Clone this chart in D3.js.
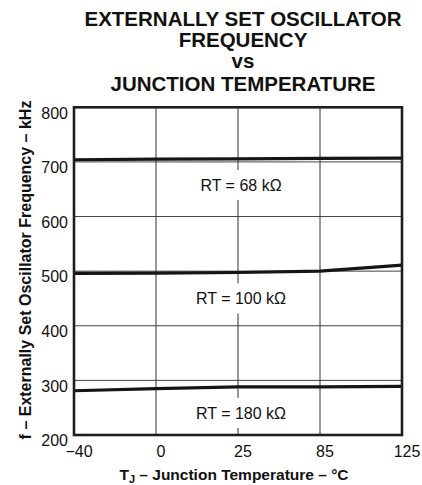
<!DOCTYPE html>
<html>
<head>
<meta charset="utf-8">
<script src="https://cdn.jsdelivr.net/npm/d3@7"></script>
<style>
  body { margin: 0; background: #fff; }
  text { font-family: "Liberation Sans", Arial, Helvetica, sans-serif; fill: #111; }
</style>
</head>
<body>
<div id="chart"></div>
<script>
// data
const temps = ["-40", "0", "25", "85", "125"];
const tempLabels = ["\u221240", "0", "25", "85", "125"];
const freqTicks = [200, 300, 400, 500, 600, 700, 800];
const rt68 = [704, 705, 705.5, 706.5, 707];
const rt100 = [496, 496.5, 497.5, 500, 511];
const rt180 = [281, 285, 288, 288, 289];
const seriesNames = ["RT = 68 k\u03A9", "RT = 100 k\u03A9", "RT = 180 k\u03A9"];
const titleLines = ["EXTERNALLY SET OSCILLATOR", "FREQUENCY", "vs", "JUNCTION TEMPERATURE"];

const width = 422;
const height = 485;
const plotLeft = 74, plotRight = 402, plotTop = 107.3, plotBottom = 435;

const svg = d3.select("#chart")
    .append("svg")
    .attr("width", width)
    .attr("height", height)
    .style("display", "block");

svg.append("rect").attr("width", width).attr("height", height).attr("fill", "#fff");

let x = d3.scalePoint().domain(temps).range([plotLeft, plotRight]);
let y = d3.scaleLinear().domain([200, 800]).range([plotBottom, plotTop]);

// title
const titleY = [25.5, 47, 68, 90.5];
svg.append("g")
    .selectAll("text")
    .data(titleLines)
    .join("text")
        .attr("x", 243)
        .attr("y", (d, i) => titleY[i])
        .attr("text-anchor", "middle")
        .style("font-size", "20.5px")
        .style("font-weight", "bold")
        .text(d => d);

// grid
const grid = svg.append("g");
grid.selectAll(".hgrid")
    .data(freqTicks.slice(1, -1))
    .join("line")
        .attr("class", "hgrid")
        .attr("x1", plotLeft).attr("x2", plotRight)
        .attr("y1", d => y(d)).attr("y2", d => y(d))
        .attr("stroke", "#444")
        .attr("stroke-width", 1);

grid.selectAll(".vgrid")
    .data(temps.slice(1, -1))
    .join("line")
        .attr("class", "vgrid")
        .attr("x1", d => x(d)).attr("x2", d => x(d))
        .attr("y1", plotTop).attr("y2", plotBottom)
        .attr("stroke", "#333")
        .attr("stroke-width", 1);

// curves
const series = [rt68, rt100, rt180];
let lineFunction = d3.line()
    .x((d, i) => x(temps[i]))
    .y(d => y(d));

svg.append("g")
    .selectAll("path")
    .data(series)
    .join("path")
        .attr("d", lineFunction)
        .attr("fill", "none")
        .attr("stroke", "#151515")
        .attr("stroke-width", 3.2)
        .attr("stroke-linejoin", "round");

// curve labels, with white box that breaks the 25 gridline
const labels = svg.append("g");
series.forEach((s, i) => {
    const cy = y(s[2]) + 26;
    labels.append("rect")
        .attr("x", x("25") - 6)
        .attr("y", cy - 15)
        .attr("width", 12)
        .attr("height", 30)
        .attr("fill", "#fff");
    labels.append("text")
        .attr("x", x("25") + 3)
        .attr("y", cy + 5.8)
        .attr("text-anchor", "middle")
        .style("font-size", "16px")
        .text(seriesNames[i]);
});

// frame
svg.append("rect")
    .attr("x", plotLeft).attr("y", plotTop)
    .attr("width", plotRight - plotLeft).attr("height", plotBottom - plotTop)
    .attr("fill", "none")
    .attr("stroke", "#1e1e1e")
    .attr("stroke-width", 2.6);

// y tick labels
svg.append("g")
    .selectAll("text")
    .data(freqTicks)
    .join("text")
        .attr("x", 68)
        .attr("y", d => y(d) + 11.2)
        .attr("text-anchor", "end")
        .style("font-size", "16px")
        .text(d => d);

// x tick labels
svg.append("g")
    .selectAll("text")
    .data(temps)
    .join("text")
        .attr("x", d => x(d) + 5)
        .attr("y", 457)
        .attr("text-anchor", "middle")
        .style("font-size", "16px")
        .text((d, i) => tempLabels[i]);

// axis titles
const xt = svg.append("text")
    .attr("x", 234)
    .attr("y", 480)
    .attr("text-anchor", "middle")
    .style("font-size", "15.5px")
    .style("font-weight", "bold");
xt.append("tspan").text("T");
xt.append("tspan").attr("dy", 3).style("font-size", "11px").text("J");
xt.append("tspan").attr("dy", -3).text(" \u2013 Junction Temperature \u2013 \u00B0C");

svg.append("text")
    .attr("transform", "translate(31," + 270 + ") rotate(-90)")
    .attr("text-anchor", "middle")
    .style("font-size", "16px")
    .style("font-weight", "bold")
    .text("f \u2013 Externally Set Oscillator Frequency \u2013 kHz");
</script>
</body>
</html>
